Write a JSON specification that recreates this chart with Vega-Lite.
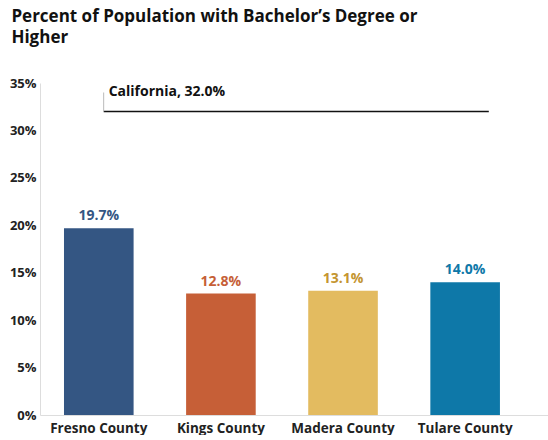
{
  "$schema": "https://vega.github.io/schema/vega-lite/v6.json",
  "width": 508,
  "height": 332,
  "padding": {"left": 9, "top": 8, "right": 0, "bottom": 0},
  "background": "white",
  "config": {
    "font": "Open Sans",
    "view": {"stroke": null},
    "axis": {"labelFont": "Open Sans", "labelFontWeight": "bold", "labelFontSize": 13, "labelColor": "#222222"}
  },
  "title": {
    "text": ["Percent of Population with Bachelor’s Degree or", "Higher"],
    "anchor": "start",
    "frame": "bounds",
    "font": "Open Sans",
    "fontSize": 17,
    "fontWeight": "bold",
    "color": "#111111",
    "lineHeight": 21,
    "offset": 30,
    "dx": 2
  },
  "layer": [
    {
      "data": {"values": [
        {"county": "Fresno County", "value": 0.197},
        {"county": "Kings County", "value": 0.128},
        {"county": "Madera County", "value": 0.131},
        {"county": "Tulare County", "value": 0.140}
      ]},
      "layer": [
        {
          "mark": {"type": "bar"},
          "encoding": {
            "x": {"field": "county", "type": "nominal", "sort": null,
                  "scale": {"paddingInner": 0.43, "paddingOuter": 0.295, "align": 0.333},
                  "axis": {"title": null, "labelAngle": 0, "ticks": false, "domainColor": "#dddddd", "labelPadding": 6, "labelFontSize": 13.5}},
            "y": {"field": "value", "type": "quantitative",
                  "scale": {"domain": [0, 0.35]},
                  "axis": {"title": null, "format": ".0%", "values": [0, 0.05, 0.1, 0.15, 0.2, 0.25, 0.3, 0.35], "grid": false, "ticks": false, "domainColor": "#dddddd", "labelPadding": 4}},
            "color": {"field": "county", "type": "nominal", "legend": null,
                      "scale": {"domain": ["Fresno County", "Kings County", "Madera County", "Tulare County"],
                                "range": ["#345683", "#C65F37", "#E3BB60", "#0E78A8"]}}
          }
        },
        {
          "mark": {"type": "text", "dy": -12, "fontWeight": "bold", "fontSize": 14},
          "encoding": {
            "x": {"field": "county", "type": "nominal", "sort": null},
            "y": {"field": "value", "type": "quantitative"},
            "text": {"field": "value", "type": "quantitative", "format": ".1%"},
            "color": {
              "condition": [
                {"test": "datum.county === 'Fresno County'", "value": "#345683"},
                {"test": "datum.county === 'Kings County'", "value": "#C65F37"},
                {"test": "datum.county === 'Madera County'", "value": "#C49530"}
              ],
              "value": "#0E78A8"
            }
          }
        }
      ]
    },
    {
      "data": {"values": [{"label": "California, 32.0%", "value": 0.32, "top": 0.34, "start": "Fresno County", "end": "Tulare County"}]},
      "layer": [
        {
          "mark": {"type": "rule", "color": "#111111", "strokeWidth": 1.5},
          "encoding": {
            "x": {"field": "start", "type": "nominal", "bandPosition": 0.57},
            "x2": {"field": "end", "bandPosition": 0.84},
            "y": {"field": "value", "type": "quantitative"}
          }
        },
        {
          "mark": {"type": "rule", "color": "#bbbbbb", "strokeWidth": 1},
          "encoding": {
            "x": {"field": "start", "type": "nominal", "bandPosition": 0.57},
            "y": {"field": "value", "type": "quantitative"},
            "y2": {"field": "top"}
          }
        },
        {
          "mark": {"type": "text", "align": "left", "baseline": "middle", "dx": 5, "fontWeight": "bold", "fontSize": 14, "color": "#111111"},
          "encoding": {
            "x": {"field": "start", "type": "nominal", "bandPosition": 0.57},
            "y": {"field": "top", "type": "quantitative"},
            "text": {"field": "label"}
          }
        }
      ]
    }
  ]
}
